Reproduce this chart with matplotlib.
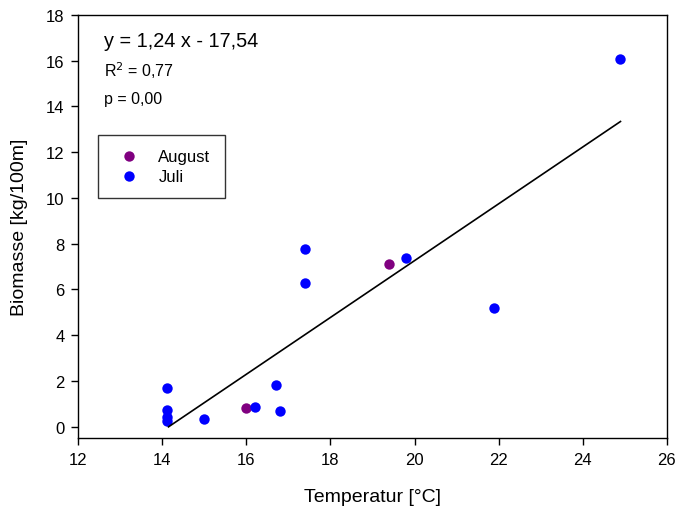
import matplotlib

matplotlib.use("Agg")

import matplotlib.pyplot as plt
import numpy as np

plt.rcParams["font.family"] = ["Liberation Sans", "DejaVu Sans"]

# data
juli_temp = [14.1, 14.1, 14.1, 14.1, 15.0, 16.2, 16.7, 16.8, 17.4, 17.4, 19.8, 21.9, 24.9]
juli_bio = [1.68, 0.75, 0.45, 0.25, 0.35, 0.86, 1.83, 0.69, 7.76, 6.28, 7.38, 5.18, 16.06]
aug_temp = [16.0, 19.4]
aug_bio = [0.82, 7.12]

slope, intercept = 1.24, -17.54
r2, p_val = 0.77, 0.00

fig = plt.figure(figsize=(6.77, 5.10), dpi=100)
ax = fig.add_axes([0.1157, 0.1386, 0.8691, 0.8306])

ax.scatter(aug_temp, aug_bio, s=56, color="#800080", linewidths=0, label="August", zorder=3)
ax.scatter(juli_temp, juli_bio, s=56, color="#0000ff", linewidths=0, label="Juli", zorder=3)

all_t = np.array(juli_temp + aug_temp)
xs = np.array([-intercept / slope, all_t.max()])
ax.plot(xs, slope * xs + intercept, color="black", lw=1.2, zorder=4)

ax.set_xlim(12, 26)
ax.set_ylim(-0.5, 18)
ax.set_xticks(np.arange(12, 27, 2))
ax.set_yticks(np.arange(0, 19, 2))
ax.tick_params(direction="out", length=5, width=1, labelsize=12, pad=5)
for s in ax.spines.values():
    s.set_linewidth(1)

ax.set_xlabel("Temperatur [°C]", fontsize=14, labelpad=15)
ax.set_ylabel("Biomasse [kg/100m]", fontsize=14, labelpad=13)

ax.text(0.044, 0.938, f"y = {slope:.2f} x - {abs(intercept):.2f}".replace(".", ","),
        transform=ax.transAxes, fontsize=14.3, va="center")
ax.text(0.044, 0.870, f"R$^2$ = {r2:.2f}".replace(".", ","),
        transform=ax.transAxes, fontsize=11.5, va="center")
ax.text(0.044, 0.802, f"p = {p_val:.2f}".replace(".", ","),
        transform=ax.transAxes, fontsize=11.5, va="center")

leg = ax.legend(loc="upper left", bbox_to_anchor=(0.034, 0.717), fontsize=12,
                frameon=True, fancybox=False, edgecolor="black", borderpad=0.85,
                handlelength=2.0, handletextpad=0.75, labelspacing=0.3, borderaxespad=0)
leg.get_frame().set_linewidth(1)

fig.savefig("out.png", dpi=100)
